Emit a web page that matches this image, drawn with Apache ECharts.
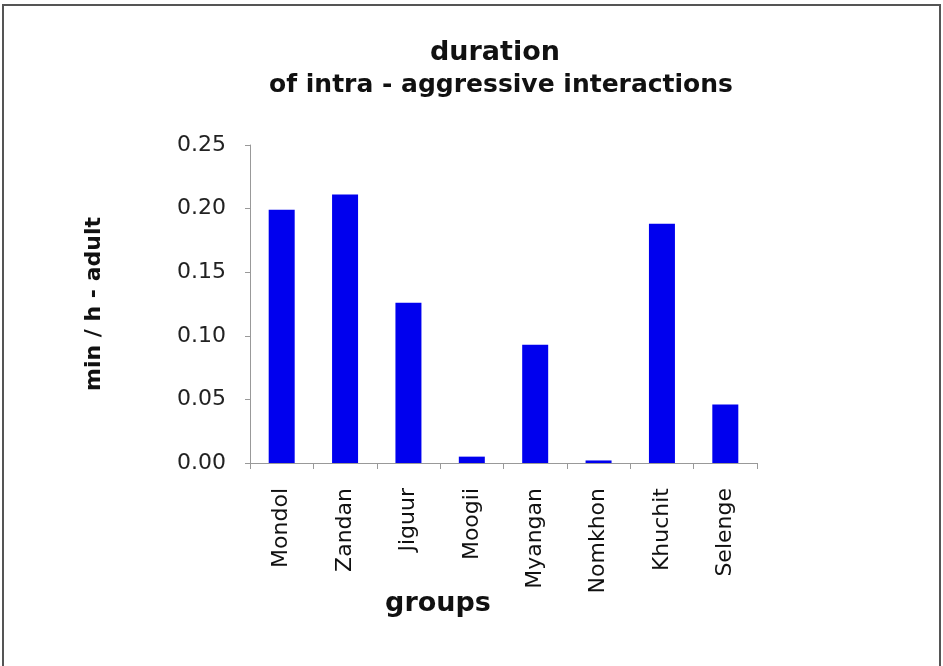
<!DOCTYPE html>
<html><head><meta charset="utf-8">
<script src="https://cdn.jsdelivr.net/npm/echarts@6/dist/echarts.min.js"></script>
<style>html,body{margin:0;padding:0;background:#fff}#c{width:943px;height:666px}</style>
</head><body><div id="c"></div>
<script>
const categories = ['Mondol','Zandan','Jiguur','Moogii','Myangan','Nomkhon','Khuchit','Selenge'];
const values = [0.199, 0.211, 0.126, 0.005, 0.093, 0.002, 0.188, 0.046];
const yTicks = {min: 0, max: 0.25, interval: 0.05};
const titleText = 'duration';
const subtitleText = 'of intra - aggressive interactions';
const yName = 'min / h - adult';
const xName = 'groups';

const chart = echarts.init(document.getElementById('c'));
const F = 'DejaVu Sans, Verdana, sans-serif';
chart.setOption({
  animation: false,
  backgroundColor: '#fff',
  title: [
    {text: titleText, left: 490, textAlign: 'center', top: 34,
     textStyle: {fontFamily: F, fontSize: 27, fontWeight: 'bold', color: '#111'}},
    {text: subtitleText, left: 496, textAlign: 'center', top: 68,
     textStyle: {fontFamily: F, fontSize: 25, fontWeight: 'bold', color: '#111'}}
  ],
  graphic: [
    {type: 'rect', shape: {x: 3, y: 5, width: 937, height: 700}, style: {fill: 'none', stroke: '#555', lineWidth: 2}, silent: true},
    {type: 'text', x: 438, y: 604, style: {text: xName, font: 'bold 27px DejaVu Sans, Verdana, sans-serif', fill: '#111', textAlign: 'center', textVerticalAlign: 'middle'}}
  ],
  grid: {left: 250, right: 186, top: 145, bottom: 203},
  xAxis: {
    type: 'category', data: categories,
    axisLine: {lineStyle: {color: '#999', width: 1}},
    axisTick: {show: true, length: 6, lineStyle: {color: '#999'}, alignWithLabel: false},
    axisLabel: {rotate: 90, fontFamily: F, fontSize: 22, color: '#111', margin: 25}
  },
  yAxis: {
    type: 'value', min: yTicks.min, max: yTicks.max, interval: yTicks.interval,
    name: yName, nameLocation: 'middle', nameGap: 145,
    nameTextStyle: {fontFamily: F, fontSize: 22, fontWeight: 'bold', color: '#111'},
    axisLine: {show: true, lineStyle: {color: '#999'}},
    axisTick: {show: true, length: 5, lineStyle: {color: '#999'}},
    splitLine: {show: false},
    axisLabel: {fontFamily: F, fontSize: 22, color: '#222', margin: 24, formatter: v => v.toFixed(2)}
  },
  series: [{
    type: 'bar', data: values, barWidth: 26,
    itemStyle: {color: '#0000ee'}
  }]
});
</script></body></html>
